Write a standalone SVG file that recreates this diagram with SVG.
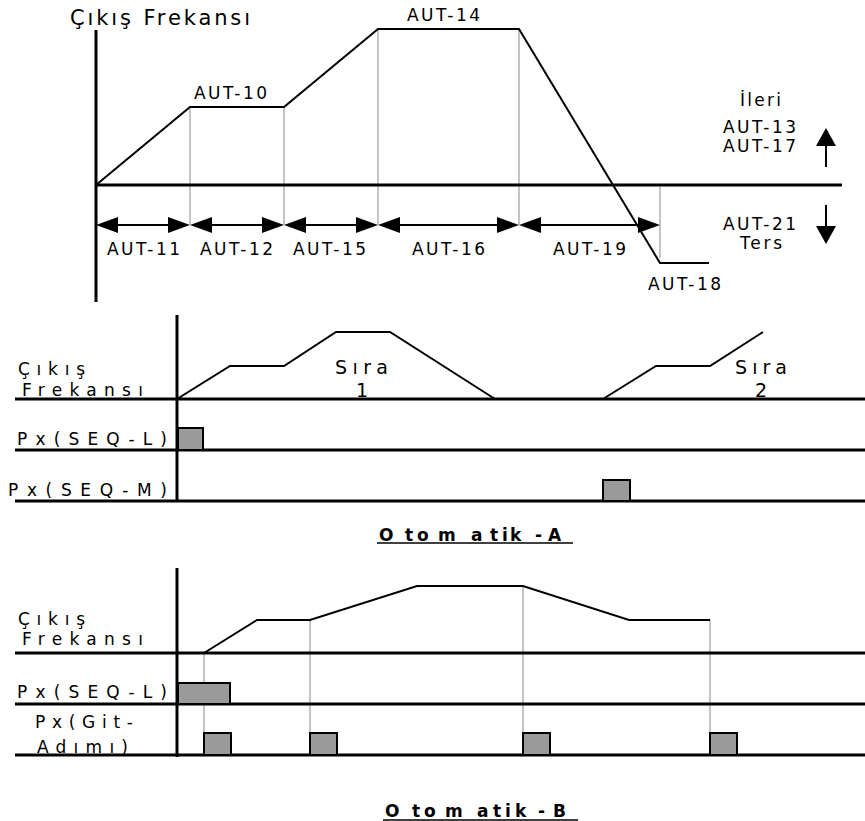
<svg xmlns="http://www.w3.org/2000/svg" width="865" height="821" viewBox="0 0 865 821">
<style>
text{font-family:"DejaVu Sans","Liberation Sans",sans-serif;fill:#000}
.lbl{font-size:17px}
.sp{font-size:17px}
.sira{font-size:19px}
.ttl{font-size:17px;font-weight:bold}
.axis{stroke:#000;stroke-width:3;fill:none}
.ln{stroke:#000;stroke-width:3;fill:none}
.curve{stroke:#000;stroke-width:2;fill:none;stroke-linejoin:miter}
.grey{stroke:#c4c4c4;stroke-width:2;fill:none}
.pulse{fill:#9a9a9a;stroke:#000;stroke-width:2}
.dim{stroke:#000;stroke-width:2;fill:none}
.head{fill:#000}
</style>

<g id="top-chart">
  <text x="70" y="25" style="font-size:21px" textLength="180" lengthAdjust="spacing">Çıkış Frekansı</text>
  <g id="top-grid">
    <line class="grey" x1="190" y1="107" x2="190" y2="225"/>
    <line class="grey" x1="284" y1="107" x2="284" y2="225"/>
    <line class="grey" x1="378" y1="29" x2="378" y2="225"/>
    <line class="grey" x1="519" y1="29" x2="519" y2="225"/>
    <line class="grey" x1="660" y1="187" x2="660" y2="258"/>
  </g>
  <line class="axis" x1="96" y1="30" x2="96" y2="302"/>
  <line class="axis" x1="96" y1="185" x2="842" y2="185"/>
  <polyline class="curve" points="96,185 190,107 284,107 378,29 519,29 660,263 709,263"/>
  <g id="top-labels">
    <text class="lbl" x="194" y="99" textLength="73" lengthAdjust="spacing">AUT-10</text>
    <text class="lbl" x="407" y="21" textLength="73" lengthAdjust="spacing">AUT-14</text>
    <text class="lbl" x="107" y="255" textLength="73" lengthAdjust="spacing">AUT-11</text>
    <text class="lbl" x="200" y="255" textLength="73" lengthAdjust="spacing">AUT-12</text>
    <text class="lbl" x="293" y="255" textLength="73" lengthAdjust="spacing">AUT-15</text>
    <text class="lbl" x="412" y="255" textLength="73" lengthAdjust="spacing">AUT-16</text>
    <text class="lbl" x="553" y="255" textLength="73" lengthAdjust="spacing">AUT-19</text>
    <text class="lbl" x="648" y="290" textLength="73" lengthAdjust="spacing">AUT-18</text>
    <text class="lbl" x="740" y="106" textLength="41" lengthAdjust="spacing">İleri</text>
    <text class="lbl" x="723" y="133" textLength="73" lengthAdjust="spacing">AUT-13</text>
    <text class="lbl" x="723" y="152" textLength="73" lengthAdjust="spacing">AUT-17</text>
    <text class="lbl" x="723" y="230" textLength="73" lengthAdjust="spacing">AUT-21</text>
    <text class="lbl" x="740" y="249" textLength="42" lengthAdjust="spacing">Ters</text>
  </g>
</g>

<g id="connectors">
  <g id="dim-arrows">
    <line class="dim" x1="110" y1="225" x2="176" y2="225"/>
    <polygon class="head" points="96,225 118,217 118,233"/>
    <polygon class="head" points="190,225 168,217 168,233"/>
    <line class="dim" x1="204" y1="225" x2="270" y2="225"/>
    <polygon class="head" points="190,225 212,217 212,233"/>
    <polygon class="head" points="284,225 262,217 262,233"/>
    <line class="dim" x1="298" y1="225" x2="364" y2="225"/>
    <polygon class="head" points="284,225 306,217 306,233"/>
    <polygon class="head" points="378,225 356,217 356,233"/>
    <line class="dim" x1="392" y1="225" x2="505" y2="225"/>
    <polygon class="head" points="378,225 400,217 400,233"/>
    <polygon class="head" points="519,225 497,217 497,233"/>
    <line class="dim" x1="533" y1="225" x2="646" y2="225"/>
    <polygon class="head" points="519,225 541,217 541,233"/>
    <polygon class="head" points="660,225 638,217 638,233"/>
  </g>
  <g id="dir-arrows">
    <line class="dim" x1="826" y1="142" x2="826" y2="167"/>
    <polygon class="head" points="826,128 816,146 836,146"/>
    <line class="dim" x1="826" y1="205" x2="826" y2="230"/>
    <polygon class="head" points="826,244 816,226 836,226"/>
  </g>
</g>

<g id="otomatik-a">
  <line class="ln" x1="15" y1="399" x2="865" y2="399"/>
  <line class="ln" x1="15" y1="450" x2="865" y2="450"/>
  <line class="ln" x1="15" y1="501" x2="865" y2="501"/>
  <line class="axis" x1="177" y1="315" x2="177" y2="502"/>
  <polyline class="curve" points="177,399 230,366 284,366 336,332 390,332 495,399"/>
  <polyline class="curve" points="603,399 656,366 710,366 763,332"/>
  <rect class="pulse" x="178" y="428" width="25" height="22"/>
  <rect class="pulse" x="603" y="480" width="27" height="21"/>
  <text class="sp" x="18" y="375" textLength="67" lengthAdjust="spacing">Çıkış</text>
  <text class="sp" x="22" y="396" textLength="121" lengthAdjust="spacing">Frekansı</text>
  <text class="sp" x="17" y="445" textLength="150" lengthAdjust="spacing">Px(SEQ-L)</text>
  <text class="sp" x="8" y="496" textLength="159" lengthAdjust="spacing">Px(SEQ-M)</text>
  <text class="sira" x="335" y="374" textLength="53" lengthAdjust="spacing">Sıra</text>
  <text class="sira" x="356" y="397">1</text>
  <text class="sira" x="735" y="374" textLength="52" lengthAdjust="spacing">Sıra</text>
  <text class="sira" x="755" y="397">2</text>
  <text class="ttl" x="379 405 417 438 471 490 502 510 535 548" y="541">Otomatik-A</text>
  <line x1="377" y1="543" x2="573" y2="543" stroke="#000" stroke-width="1.5"/>
</g>

<g id="otomatik-b">
  <line class="grey" x1="204" y1="653" x2="204" y2="733"/>
  <line class="grey" x1="310" y1="620" x2="310" y2="733"/>
  <line class="grey" x1="523" y1="586" x2="523" y2="733"/>
  <line class="grey" x1="710" y1="620" x2="710" y2="733"/>
  <line class="ln" x1="15" y1="653" x2="865" y2="653"/>
  <line class="ln" x1="15" y1="704" x2="865" y2="704"/>
  <line class="ln" x1="15" y1="755" x2="865" y2="755"/>
  <line class="axis" x1="177" y1="568" x2="177" y2="757"/>
  <polyline class="curve" points="204,653 257,620 310,620 417,586 523,586 629,620 710,620"/>
  <rect class="pulse" x="178" y="683" width="52" height="21"/>
  <rect class="pulse" x="204" y="733" width="27" height="22"/>
  <rect class="pulse" x="310" y="733" width="27" height="22"/>
  <rect class="pulse" x="523" y="733" width="27" height="22"/>
  <rect class="pulse" x="710" y="733" width="27" height="22"/>
  <text class="sp" x="18" y="625" textLength="67" lengthAdjust="spacing">Çıkış</text>
  <text class="sp" x="22" y="645" textLength="121" lengthAdjust="spacing">Frekansı</text>
  <text class="sp" x="17" y="698" textLength="150" lengthAdjust="spacing">Px(SEQ-L)</text>
  <text class="sp" x="35" y="728" textLength="98" lengthAdjust="spacing">Px(Git-</text>
  <text class="sp" x="37" y="753" textLength="91" lengthAdjust="spacing">Adımı)</text>
  <text class="ttl" x="385 412 424 445 477 493 505 515 538 553" y="817">Otomatik-B</text>
  <line x1="383" y1="820" x2="578" y2="820" stroke="#000" stroke-width="1.5"/>
</g>
</svg>
